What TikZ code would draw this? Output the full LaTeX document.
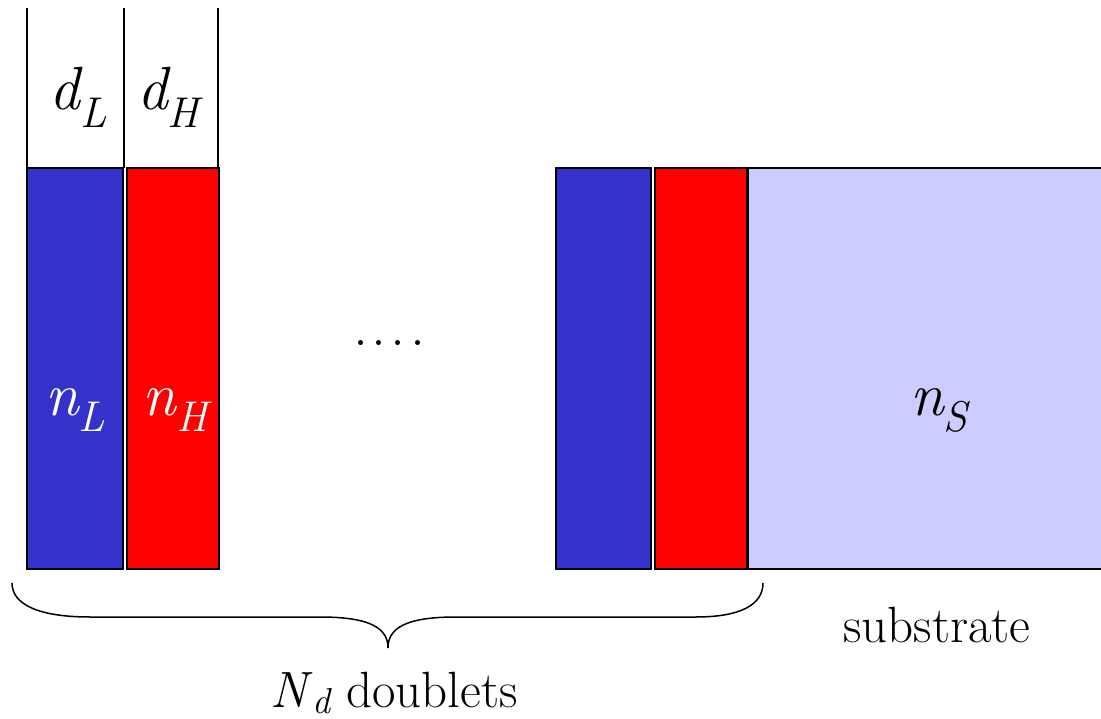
\documentclass[tikz,border=0pt]{standalone}
\usepackage{fontspec}
\definecolor{layL}{RGB}{51,51,204}
\definecolor{layH}{RGB}{255,0,0}
\definecolor{laySub}{RGB}{204,204,255}
\newcommand{\symlab}[3]{{\fontsize{61}{72}\selectfont\itshape #1\raisebox{-#3pt}{\fontsize{43}{50}\selectfont\itshape #2}}}
\tikzset{
  thinline/.style={line width=1.5pt, black},
  layerbox/.style={line width=2pt, draw=black},
  lab/.style={anchor=base, inner sep=0pt},
  plain/.style={anchor=base, inner sep=0pt, font=\fontsize{51}{62}\selectfont},
}
\begin{document}
\begin{tikzpicture}[x=1pt,y=-1pt]
\useasboundingbox (0,0) rectangle (1101,719);
% top thickness cells
\draw[thinline] (27,8) -- (27,168);
\draw[thinline] (124,8) -- (124,168);
\draw[thinline] (218,8) -- (218,168);
% first doublet
\fill[layL] (27,168) rectangle (123,569);
\draw[layerbox] (27,168) rectangle (123,569);
\fill[layH] (127,168) rectangle (219,569);
\draw[layerbox] (127,168) rectangle (219,569);
% last doublet and substrate
\fill[laySub] (748,168) rectangle (1103,569);
\draw[layerbox] (1103,168) -- (748,168) -- (748,569) -- (1103,569);
\fill[layL] (556,168) rectangle (651,569);
\draw[layerbox] (556,168) rectangle (651,569);
\fill[layH] (655,168) rectangle (747,569);
\draw[layerbox] (655,168) rectangle (747,569);
% labels
\node[lab] (dL) at (78,110) {\symlab{d}{L}{18}};
\node[lab] (dH) at (168,110) {\symlab{d}{H}{18}};
\node[lab, text=white] (nL) at (75,415) {\symlab{n}{L}{17}};
\node[lab, text=white] (nH) at (175,415) {\symlab{n}{H}{17}};
\node[lab] (nS) at (939,415) {\symlab{n}{S}{17}};
\node[lab, font=\fontsize{60}{72}\selectfont] (dots) at (389,345.5) {.\kern4pt.\kern4pt.\kern4pt.};
\node[plain] (sub) at (937,642) {substrate};
\node[plain] (nd) at (394,707) {\textit{N}\raisebox{-6pt}{\fontsize{36}{40}\selectfont\itshape d} doublets};
% brace
\draw[line width=1.5pt] (12,583) .. controls (12,605) and (40,617) .. (90,617)
  -- (320,617) .. controls (370,617) and (388,628) .. (388,648)
  .. controls (388,628) and (406,617) .. (456,617)
  -- (696,617) .. controls (740,617) and (763,605) .. (763,583);
\end{tikzpicture}
\end{document}
